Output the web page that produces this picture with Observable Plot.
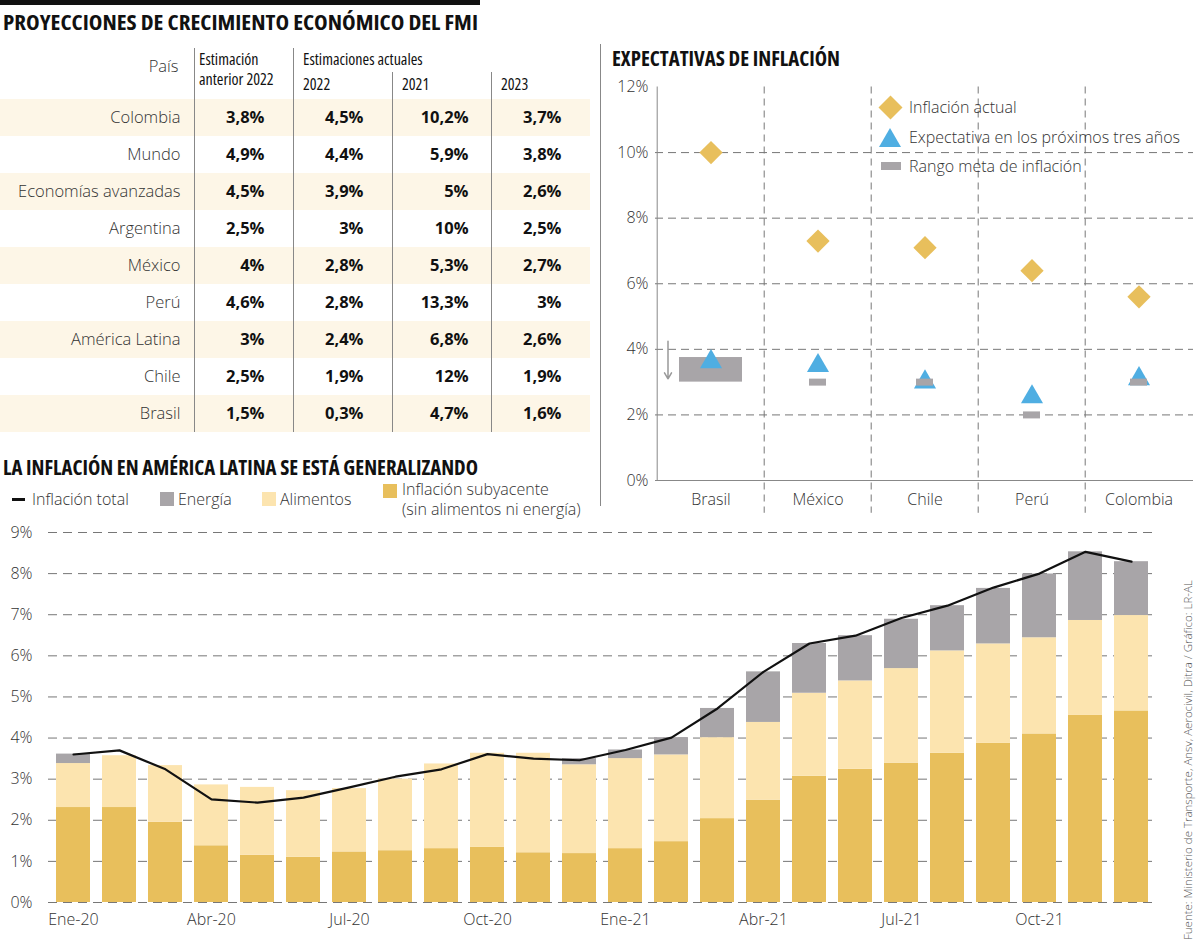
<!DOCTYPE html>
<html><head><meta charset="utf-8">
<script src="https://cdn.jsdelivr.net/npm/d3@7"></script>
<script src="https://cdn.jsdelivr.net/npm/@observablehq/plot@0.6"></script>
<style>
html,body{margin:0;padding:0;background:#fff}
body{width:1200px;height:944px;position:relative;overflow:hidden;font-family:"Open Sans",sans-serif;color:#333}
.abs{position:absolute}
.title{font-family:"Open Sans",sans-serif;font-stretch:75%;font-weight:700;font-size:21px;line-height:24px;color:#111;white-space:nowrap;transform-origin:0 50%}
.lg{position:absolute;font-size:16px;font-weight:300;line-height:20px;white-space:nowrap;color:#333}
.hd{position:absolute;font-family:"Open Sans",sans-serif;font-stretch:75%;font-size:16px;line-height:18px;white-space:nowrap;color:#111}
.sw{position:absolute}
</style></head><body>
<div class="abs" style="left:0;top:0;width:480px;height:5px;background:#111"></div>
<div class="abs title" data-w="475" style="left:3px;top:10px">PROYECCIONES DE CRECIMIENTO ECONÓMICO DEL FMI</div>
<div id="tabla" class="abs" style="left:0;top:42px"></div>
<div id="encab"></div>

<div class="abs" style="left:600px;top:44px;width:1px;height:462px;background:#888"></div>
<div class="abs title" data-w="228" style="left:612px;top:46px">EXPECTATIVAS DE INFLACIÓN</div>
<div id="expect" class="abs" style="left:600px;top:70px"></div>
<div id="legExp"></div>

<div class="abs title" data-w="475" style="left:3px;top:455px">LA INFLACIÓN EN AMÉRICA LATINA SE ESTÁ GENERALIZANDO</div>
<div id="legBar"></div>
<div id="barras" class="abs" style="left:0;top:520px"></div>
<div class="abs" style="left:1181px;top:940px;transform-origin:0 0;transform:rotate(-90deg);white-space:nowrap;font-size:11.5px;line-height:14px;font-weight:300;color:#555">Fuente: Ministerio de Transporte, Ansv, Aerocivil, Ditra / Gráfico: LR-AL</div>

<script>
// ---------- Tabla: proyecciones FMI ----------
const paises = ["Colombia","Mundo","Economías avanzadas","Argentina","México","Perú","América Latina","Chile","Brasil"];
const estAnterior2022 = [3.8, 4.9, 4.5, 2.5, 4, 4.6, 3, 2.5, 1.5];
const actual2022 = [4.5, 4.4, 3.9, 3, 2.8, 2.8, 2.4, 1.9, 0.3];
const actual2021 = [10.2, 5.9, 5, 10, 5.3, 13.3, 6.8, 12, 4.7];
const actual2023 = [3.7, 3.8, 2.6, 2.5, 2.7, 3, 2.6, 1.9, 1.6];
const columnas = ["", "País", "anterior", "a2022", "a2021", "a2023"];
const encabezadoPais = "País";
const encabezadoAnterior = ["Estimación", "anterior 2022"];
const encabezadoActuales = "Estimaciones actuales";
const encabezadoAnios = ["2022", "2021", "2023"];

// ---------- Expectativas de inflación ----------
const paisesExp = ["Brasil","México","Chile","Perú","Colombia"];
const inflacionActual = [10.0, 7.3, 7.1, 6.4, 5.6];
const expectativa3 = [3.62, 3.5, 3.0, 2.55, 3.1];
const metaBaja = [3.0, 3.0, 3.0, 2.0, 3.0];
const metaAlta = [3.75, 3.0, 3.0, 2.0, 3.0];
const flechaBrasil = [4.25, 3.1];
const ticksExp = [0, 2, 4, 6, 8, 10, 12];

// ---------- Inflación en América Latina ----------
const meses = ["Ene-20","Feb-20","Mar-20","Abr-20","May-20","Jun-20","Jul-20","Ago-20","Sep-20","Oct-20","Nov-20","Dic-20",
               "Ene-21","Feb-21","Mar-21","Abr-21","May-21","Jun-21","Jul-21","Ago-21","Sep-21","Oct-21","Nov-21","Dic-21"];
const subyacente = [2.31,2.31,1.95,1.38,1.15,1.10,1.23,1.26,1.31,1.34,1.21,1.19,1.31,1.48,2.04,2.49,3.07,3.24,3.39,3.63,3.87,4.10,4.55,4.66];
const alimentos  = [1.07,1.26,1.38,1.48,1.65,1.62,1.54,1.74,2.06,2.29,2.42,2.16,2.19,2.11,1.97,1.89,2.02,2.15,2.30,2.49,2.42,2.34,2.31,2.32];
const energia    = [0.23,0,0,0,0,0,0,0,0,0,0,0.15,0.21,0.42,0.71,1.23,1.21,1.10,1.20,1.10,1.35,1.55,1.67,1.31];
const total      = [3.60,3.70,3.24,2.51,2.43,2.55,2.80,3.06,3.24,3.61,3.50,3.46,3.71,4.01,4.72,5.61,6.30,6.49,6.92,7.22,7.66,8.00,8.53,8.29];
const tipos = ["Inflación subyacente", "Alimentos", "Energía"];
const ticksMeses = meses.filter((d, i) => i % 3 === 0);

const GOLD = "#E8BF5C", CREAM = "#FCE4AF", GRAY = "#A8A5A8", BLUE = "#4FAEE2", BAND = "#FDF6E7";
const fmt = v => String(v).replace(".", ",") + "%";
const baseStyle = {fontFamily: "'Open Sans', sans-serif", fontSize: "16px", fontWeight: 300, color: "#333", background: "transparent", overflow: "visible"};

// ===== Tabla =====
const filas = paises.map((p, i) => ({pais: p, anterior: estAnterior2022[i], a2022: actual2022[i], a2021: actual2021[i], a2023: actual2023[i]}));
const sombreadas = paises.filter((d, i) => i % 2 === 0);
const bwT = 99;
const valCol = (key, dx) => Plot.text(filas, {x: () => key, y: "pais", text: d => fmt(d[key]), textAnchor: "end", dx, fontWeight: "bold", fill: "#111", fontSize: 16.5});
const tabla = Plot.plot({
  width: 590, height: 390, marginTop: 56, marginBottom: 0, marginLeft: 0, marginRight: 0,
  style: baseStyle,
  x: {domain: columnas, range: [-4, 590], padding: 0, axis: null},
  y: {domain: paises, padding: 0, axis: null},
  marks: [
    Plot.cell(d3.cross(sombreadas, columnas), {x: d => d[1], y: d => d[0], fill: BAND, inset: 0}),
    Plot.ruleX(["anterior", "a2022"], {dx: -bwT / 2, insetTop: -50, stroke: "#888"}),
    Plot.ruleX(["a2021", "a2023"], {dx: -bwT / 2, insetTop: -26, stroke: "#888"}),
    Plot.text(paises, {x: () => "País", y: d => d, textAnchor: "end", dx: 35.5, fill: "#333", fontSize: 16.5}),
    valCol("anterior", 20.5), valCol("a2022", 20.5), valCol("a2021", 26.5), valCol("a2023", 20.5),
    Plot.text([encabezadoPais], {x: () => "País", frameAnchor: "top", text: d => d, textAnchor: "end", dx: 33.5, dy: -38, fontSize: 16.5, fill: "#333"})
  ]
});
document.getElementById("tabla").appendChild(tabla);
document.getElementById("encab").innerHTML = `
  <div class="hd" style="left:199px;top:50px">${encabezadoAnterior[0]}</div>
  <div class="hd" style="left:199px;top:70px">${encabezadoAnterior[1]}</div>
  <div class="hd" style="left:303px;top:50px">${encabezadoActuales}</div>
  <div class="hd" style="left:303px;top:75px">${encabezadoAnios[0]}</div>
  <div class="hd" style="left:402px;top:75px">${encabezadoAnios[1]}</div>
  <div class="hd" style="left:501px;top:75px">${encabezadoAnios[2]}</div>`;

// ===== Expectativas =====
const exp = paisesExp.map((p, i) => ({pais: p, actual: inflacionActual[i], expectativa: expectativa3[i], baja: metaBaja[i], alta: metaAlta[i]}));
const bwE = (600 - 55 - 7) / 5;
const expect = Plot.plot({
  width: 600, height: 455, marginTop: 16.5, marginBottom: 45, marginLeft: 55, marginRight: 7,
  style: baseStyle,
  x: {domain: paisesExp, padding: 0, tickSize: 0, tickPadding: 13, label: null},
  y: {domain: [0, 12], ticks: ticksExp, tickFormat: d => d + "%", tickSize: 0, tickPadding: 7, label: null},
  marks: [
    Plot.gridY(ticksExp.filter(d => d > 0 && d < 12), {stroke: "#777", strokeOpacity: 1, strokeDasharray: "8,5"}),
    Plot.ruleX(paisesExp.slice(1), {dx: -bwE / 2, y1: 12, y2: -1, stroke: "#777", strokeDasharray: "7,5"}),
    Plot.ruleX(paisesExp.slice(0, 1), {dx: -bwE / 2, y1: 0, y2: 12, stroke: "#888"}),
    Plot.ruleY([0], {stroke: "#888"}),
    Plot.barY(exp.filter(d => d.alta > d.baja), {x: "pais", y1: "baja", y2: "alta", fill: GRAY, insetLeft: 22, insetRight: 22}),
    Plot.arrow([flechaBrasil], {x1: () => paisesExp[0], x2: () => paisesExp[0], y1: d => d[0], y2: d => d[1], dx: -43, stroke: "#999", strokeWidth: 1.5, headLength: 7}),
    Plot.dot(exp, {x: "pais", y: "expectativa", symbol: "triangle", r: 8.2, fill: BLUE}),
    Plot.tickY(exp.filter(d => d.alta === d.baja), {x: "pais", y: "baja", stroke: GRAY, strokeWidth: 7, insetLeft: 45, insetRight: 45}),
    Plot.dot(exp, {x: "pais", y: "actual", symbol: "diamond2", r: 10.5, fill: GOLD})
  ]
});
document.getElementById("expect").appendChild(expect);

document.getElementById("legExp").innerHTML = `
  <div class="sw" style="left:881.5px;top:98.5px;width:17px;height:17px;background:${GOLD};transform:rotate(45deg)"></div>
  <div class="sw" style="left:879px;top:128px;width:0;height:0;border-left:11px solid transparent;border-right:11px solid transparent;border-bottom:19px solid ${BLUE}"></div>
  <div class="sw" style="left:881px;top:162px;width:20px;height:8px;background:${GRAY}"></div>
  <div class="lg" style="left:909px;top:97px">Inflación actual</div>
  <div class="lg" style="left:909px;top:127px">Expectativa en los próximos tres años</div>
  <div class="lg" style="left:909px;top:156px">Rango meta de inflación</div>`;

// ===== Barras =====
document.getElementById("legBar").innerHTML = `
  <div class="sw" style="left:12px;top:498px;width:13px;height:2.5px;background:#111"></div>
  <div class="lg" style="left:32px;top:489px">Inflación total</div>
  <div class="sw" style="left:160px;top:492px;width:14px;height:14px;background:${GRAY}"></div>
  <div class="lg" style="left:178px;top:489px">Energía</div>
  <div class="sw" style="left:262px;top:492px;width:14px;height:14px;background:${CREAM}"></div>
  <div class="lg" style="left:280px;top:489px">Alimentos</div>
  <div class="sw" style="left:383px;top:484px;width:14px;height:14px;background:${GOLD}"></div>
  <div class="lg" style="left:402px;top:480px;line-height:18px">Inflación subyacente</div>
  <div class="lg" style="left:402px;top:500px;line-height:18px">(sin alimentos ni energía)</div>`;

const largo = [];
meses.forEach((m, i) => {
  largo.push({mes: m, tipo: tipos[0], valor: subyacente[i]});
  largo.push({mes: m, tipo: tipos[1], valor: alimentos[i]});
  largo.push({mes: m, tipo: tipos[2], valor: energia[i]});
});
const lineaTotal = meses.map((m, i) => ({mes: m, total: total[i]}));
const barras = Plot.plot({
  width: 1200, height: 417, marginTop: 12, marginBottom: 35, marginLeft: 48, marginRight: 44,
  style: baseStyle,
  x: {domain: meses, paddingInner: 0.26, paddingOuter: 0.12, ticks: ticksMeses, tickSize: 0, tickPadding: 11, label: null},
  y: {domain: [0, 9], ticks: d3.range(0, 10), tickFormat: d => d + "%", tickSize: 0, tickPadding: 16, label: null},
  color: {domain: tipos, range: [GOLD, CREAM, GRAY]},
  marks: [
    Plot.gridY(d3.range(0, 10), {stroke: "#777", strokeOpacity: 1, strokeDasharray: "9,6"}),
    Plot.barY(largo, {x: "mes", y: "valor", fill: "tipo"}),
    Plot.line(lineaTotal, {x: "mes", y: "total", stroke: "#111", strokeWidth: 2.2})
  ]
});
document.getElementById("barras").appendChild(barras);

// ajustar títulos condensados al ancho de la referencia
document.querySelectorAll(".title[data-w]").forEach(el => {
  const w = el.getBoundingClientRect().width;
  const t = +el.dataset.w;
  el.style.transform = `scaleX(${t / w})`;
});
</script>
</body></html>
